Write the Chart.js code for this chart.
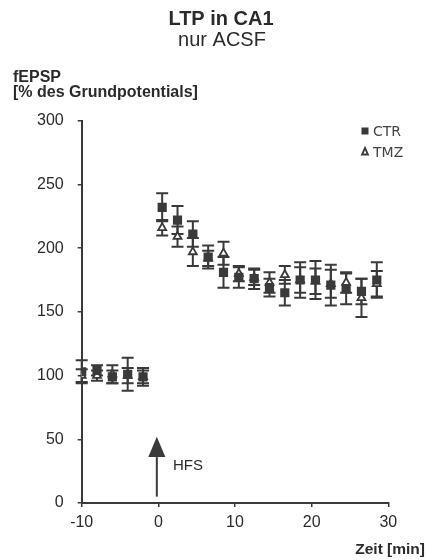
<!DOCTYPE html>
<html>
<head>
<meta charset="utf-8">
<script src="https://cdn.jsdelivr.net/npm/chart.js@4.4.0/dist/chart.umd.min.js"></script>
<style>
  body { margin: 0; background: #fff; }
  canvas { display: block; }
</style>
</head>
<body>
<canvas id="ltpChart" width="427" height="560"></canvas>
<script>
// Time points (min), baseline before HFS and recording after it
const timePoints = [-10, -8, -6, -4, -2, 0.5, 2.5, 4.5, 6.5, 8.5, 10.5, 12.5, 14.5, 16.5, 18.5, 20.5, 22.5, 24.5, 26.5, 28.5];

// fEPSP in % of baseline
const ctrMean = [103, 104, 99, 101, 99, 232, 222, 211, 193, 181, 177, 176, 169, 165, 175, 175, 171, 168, 166, 175];
const ctrErr  = [9, 4, 5, 13, 7, 11, 11, 10, 9, 12, 8, 8, 7, 10, 14, 15, 16, 12, 10, 14];
const tmzMean = [100, 100, 101, 100, 99, 216, 209, 197, 192, 196, 180, 177, 173, 179, 175, 174, 172, 173, 161, 172];
const tmzErr  = [5, 4, 7, 6, 5, 6, 8, 11, 6, 9, 6, 6, 8, 7, 10, 10, 11, 8, 15, 10];

const yTicks = [0, 50, 100, 150, 200, 250, 300];
const xTicks = [-10, 0, 10, 20, 30];

// HFS arrow (time, and fEPSP range it spans)
const hfsTime = -0.2;
const hfsFrom = 5;
const hfsHeadBase = 36;
const hfsTip = 52;

const ink = '#3a3a3a';
const textColor = '#2b2b2b';
const sans = '"Liberation Sans", Arial, sans-serif';

const toPoints = (means) => means.map((v, i) => ({ x: timePoints[i], y: v }));

// Error bars drawn behind the markers
const errorBars = {
    id: 'errorBars',
    beforeDatasetsDraw(chart) {
        const { ctx, scales: { x, y } } = chart;
        ctx.save();
        ctx.strokeStyle = ink;
        ctx.lineWidth = 2;
        chart.data.datasets.forEach(ds => {
            ds.data.forEach((p, i) => {
                const px = x.getPixelForValue(p.x);
                const top = y.getPixelForValue(p.y + ds.errors[i]);
                const bot = y.getPixelForValue(p.y - ds.errors[i]);
                ctx.beginPath();
                ctx.moveTo(px, top); ctx.lineTo(px, bot);
                ctx.moveTo(px - 6, top); ctx.lineTo(px + 6, top);
                ctx.moveTo(px - 6, bot); ctx.lineTo(px + 6, bot);
                ctx.stroke();
            });
        });
        ctx.restore();
    }
};

// Titles, legend and HFS arrow
const decorations = {
    id: 'decorations',
    afterDraw(chart) {
        const { ctx, scales: { x, y } } = chart;
        ctx.save();
        ctx.fillStyle = textColor;
        ctx.textBaseline = 'middle';

        ctx.textAlign = 'center';
        ctx.font = 'bold 20px ' + sans;
        ctx.fillText('LTP in CA1', 221, 19);
        ctx.font = '20px ' + sans;
        ctx.fillText('nur ACSF', 222, 40);

        ctx.textAlign = 'left';
        ctx.font = 'bold 16px ' + sans;
        ctx.fillText('fEPSP', 13, 78);
        ctx.fillText('[% des Grundpotentials]', 13, 93);

        ctx.textAlign = 'right';
        ctx.font = 'bold 15.5px ' + sans;
        ctx.fillText('Zeit [min]', 425, 550);

        // legend
        ctx.textAlign = 'left';
        ctx.font = '14px "DejaVu Sans", sans-serif';
        const items = chart.data.datasets;
        items.forEach((ds, i) => {
            const cy = 131 + i * 21;
            const cx = 365;
            ctx.strokeStyle = ink;
            ctx.fillStyle = ink;
            if (ds.pointStyle === 'rect') {
                ctx.fillRect(cx - 3.5, cy - 3.5, 7, 7);
            } else {
                ctx.lineWidth = 1.8;
                ctx.fillStyle = '#fff';
                ctx.beginPath();
                ctx.moveTo(cx, cy - 4);
                ctx.lineTo(cx + 3, cy + 2.5);
                ctx.lineTo(cx - 3, cy + 2.5);
                ctx.closePath();
                ctx.fill();
                ctx.stroke();
            }
            ctx.fillStyle = '#444';
            ctx.fillText(ds.label, 373, cy + 1);
        });

        // HFS arrow
        const ax = x.getPixelForValue(hfsTime);
        const yFrom = y.getPixelForValue(hfsFrom);
        const yBase = y.getPixelForValue(hfsHeadBase);
        const yTip = y.getPixelForValue(hfsTip);
        ctx.strokeStyle = ink;
        ctx.fillStyle = ink;
        ctx.lineWidth = 2;
        ctx.beginPath();
        ctx.moveTo(ax, yFrom); ctx.lineTo(ax, yBase);
        ctx.stroke();
        ctx.beginPath();
        ctx.moveTo(ax, yTip);
        ctx.lineTo(ax + 8.5, yBase);
        ctx.lineTo(ax - 8.5, yBase);
        ctx.closePath();
        ctx.fill();

        ctx.fillStyle = textColor;
        ctx.font = '15px ' + sans;
        ctx.fillText('HFS', 173, 466);
        ctx.restore();
    }
};

new Chart(document.getElementById('ltpChart').getContext('2d'), {
    type: 'scatter',
    data: {
        datasets: [
            {
                label: 'CTR',
                data: toPoints(ctrMean),
                errors: ctrErr,
                pointStyle: 'rect',
                pointRadius: 6.5,
                backgroundColor: ink,
                borderColor: ink,
                borderWidth: 0
            },
            {
                label: 'TMZ',
                data: toPoints(tmzMean),
                errors: tmzErr,
                pointStyle: 'triangle',
                pointRadius: 4.6,
                backgroundColor: '#fff',
                borderColor: ink,
                borderWidth: 1.8
            }
        ]
    },
    options: {
        responsive: false,
        animation: false,
        layout: { padding: { left: 0, right: 38.7, top: 120.7, bottom: 0 } },
        plugins: { legend: { display: false }, tooltip: { enabled: false } },
        scales: {
            x: {
                type: 'linear',
                min: xTicks[0],
                max: xTicks[xTicks.length - 1],
                afterBuildTicks: s => { s.ticks = xTicks.map(v => ({ value: v })); },
                afterFit: s => { s.height = 57; },
                grid: { drawOnChartArea: false, color: ink, lineWidth: 1.5, tickLength: 4 },
                border: { color: ink, width: 2 },
                ticks: { color: textColor, font: { family: sans, size: 16 }, padding: 6 }
            },
            y: {
                min: yTicks[0],
                max: yTicks[yTicks.length - 1],
                afterBuildTicks: s => { s.ticks = yTicks.map(v => ({ value: v })); },
                afterFit: s => { s.width = 81.7; },
                grid: { drawOnChartArea: false, color: ink, lineWidth: 1.5, tickLength: 4 },
                border: { color: ink, width: 2 },
                ticks: { color: textColor, font: { family: sans, size: 16 }, padding: 14 }
            }
        }
    },
    plugins: [errorBars, decorations]
});
</script>
</body>
</html>
